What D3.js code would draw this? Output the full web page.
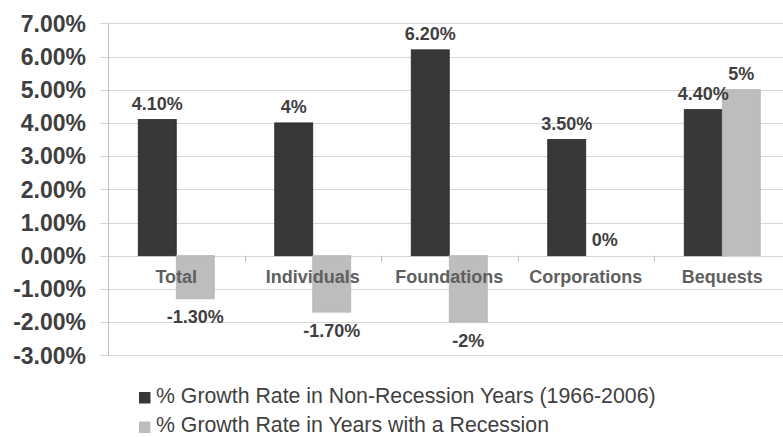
<!DOCTYPE html>
<html>
<head>
<meta charset="utf-8">
<script src="https://cdn.jsdelivr.net/npm/d3@7"></script>
<style>
  body { margin: 0; background: #fff; }
  text { font-family: "Liberation Sans", Arial, sans-serif; }
</style>
</head>
<body>
<div id="chart"></div>
<script>
// data
const categories = ["Total", "Individuals", "Foundations", "Corporations", "Bequests"];
const seriesNames = [
  "% Growth Rate in Non-Recession Years (1966-2006)",
  "% Growth Rate in Years with a Recession"
];
const nonRecession = [4.1, 4.0, 6.2, 3.5, 4.4];
const recession = [-1.3, -1.7, -2.0, 0, 5.0];
const nonRecessionLabels = ["4.10%", "4%", "6.20%", "3.50%", "4.40%"];
const recessionLabels = ["-1.30%", "-1.70%", "-2%", "0%", "5%"];
const yTicks = [-3, -2, -1, 0, 1, 2, 3, 4, 5, 6, 7];

const width = 783, height = 437;
const colors = ["#383838", "#bdbdbd"];
const strokes = ["#262626", "#b5b5b5"];

const svg = d3.select("#chart")
  .append("svg")
    .attr("width", width)
    .attr("height", height);

const x = d3.scaleBand()
  .domain(categories)
  .range([108, 790.5])
  .paddingInner(0.443)
  .paddingOuter(0.2215);

const xs = d3.scaleBand()
  .domain([0, 1])
  .range([0, x.bandwidth()]);

const y = d3.scaleLinear()
  .domain([-3, 7])
  .range([355.3, 23.3]);

// gridlines
svg.append("g")
  .selectAll("line")
  .data(yTicks)
  .join("line")
    .attr("x1", 100)
    .attr("x2", width)
    .attr("y1", d => Math.round(y(d)) + 0.5)
    .attr("y2", d => Math.round(y(d)) + 0.5)
    .attr("stroke", "#d6d6d6")
    .attr("stroke-width", 1.2);

// y axis labels
svg.append("g")
  .selectAll("text")
  .data(yTicks)
  .join("text")
    .attr("x", 86)
    .attr("y", d => y(d))
    .attr("dy", "0.36em")
    .attr("text-anchor", "end")
    .attr("font-size", 23)
    .attr("font-weight", "bold")
    .attr("fill", "#3f3f3f")
    .text(d => d.toFixed(2) + "%");

// vertical axis line
svg.append("line")
  .attr("x1", 108.5).attr("x2", 108.5)
  .attr("y1", y(7)).attr("y2", y(-3))
  .attr("stroke", "#bfbfbf");

// category ticks on the zero line
const step = x.step();
svg.append("g")
  .selectAll("line")
  .data(d3.range(categories.length + 1))
  .join("line")
    .attr("x1", i => Math.round(108 + i * step) + 0.5)
    .attr("x2", i => Math.round(108 + i * step) + 0.5)
    .attr("y1", y(0))
    .attr("y2", y(0) + 6)
    .attr("stroke", "#bfbfbf");

const rows = categories.map((c, i) => ({
  cat: c,
  vals: [nonRecession[i], recession[i]],
  labels: [nonRecessionLabels[i], recessionLabels[i]]
}));

const groups = svg.append("g")
  .selectAll("g")
  .data(rows)
  .join("g")
    .attr("transform", d => `translate(${x(d.cat)},0)`);

// bars
groups.selectAll("rect")
  .data(d => d.vals.map((v, s) => ({ v, s })))
  .join("rect")
    .attr("x", d => xs(d.s))
    .attr("width", xs.bandwidth())
    .attr("y", d => y(Math.max(0, d.v)))
    .attr("height", d => Math.abs(y(d.v) - y(0)))
    .attr("fill", d => colors[d.s])
    .attr("stroke", d => d.v === 0 ? "none" : strokes[d.s])
    .attr("stroke-width", 0.8);

// category labels (drawn over the bars)
svg.append("g")
  .selectAll("text")
  .data(categories)
  .join("text")
    .attr("x", d => x(d) + x.bandwidth() / 2)
    .attr("y", 283)
    .attr("text-anchor", "middle")
    .attr("font-size", 18)
    .attr("font-weight", "bold")
    .attr("fill", "#5f5f5f")
    .text(d => d);

// data labels
groups.selectAll("text")
  .data(d => d.vals.map((v, s) => ({ v, s, label: d.labels[s] })))
  .join("text")
    .attr("x", d => xs(d.s) + xs.bandwidth() / 2)
    .attr("y", d => d.v < 0 ? y(d.v) + 24.5 : y(d.v) - 10)
    .attr("text-anchor", "middle")
    .attr("font-size", 18)
    .attr("font-weight", "bold")
    .attr("fill", "#3f3f3f")
    .text(d => d.label);

// legend
const legend = svg.append("g")
  .selectAll("g")
  .data(seriesNames)
  .join("g")
    .attr("transform", (d, i) => `translate(139,${392 + i * 29.5})`);

legend.append("rect")
  .attr("width", 11.5)
  .attr("height", 11.5)
  .attr("fill", (d, i) => colors[i]);

legend.append("text")
  .attr("x", 17)
  .attr("y", 10.5)
  .attr("font-size", 21.3)
  .attr("fill", "#3f3f3f")
  .text(d => d);
</script>
</body>
</html>
